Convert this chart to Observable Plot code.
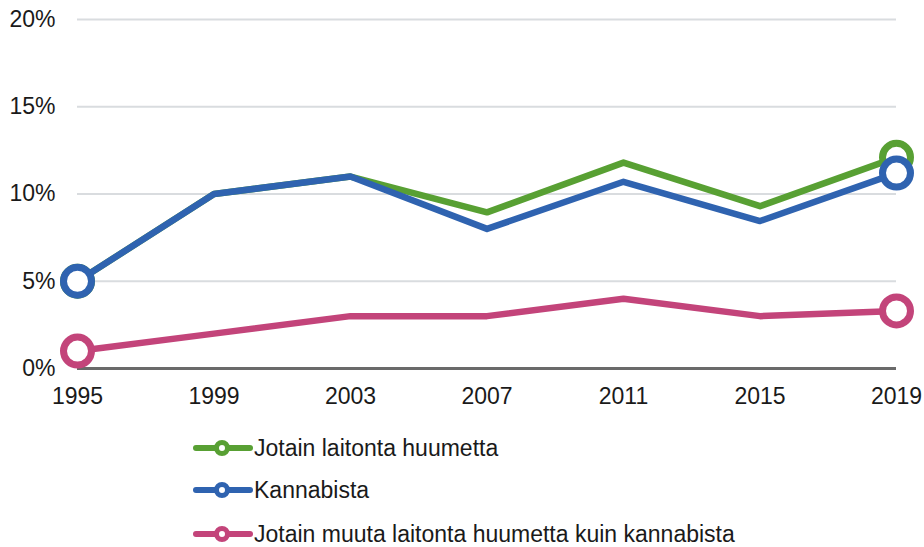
<!DOCTYPE html>
<html>
<head>
<meta charset="utf-8">
<script src="https://cdn.jsdelivr.net/npm/d3@7"></script>
<script src="https://cdn.jsdelivr.net/npm/@observablehq/plot@0.6"></script>
<style>
  body { margin: 0; background: #fff; font-family: "Liberation Sans", Arial, sans-serif; }
  #wrap { position: relative; width: 924px; height: 547px; }
  .leg { position: absolute; left: 193px; display: flex; align-items: center; font-size: 23px; color: #1a1a1a; white-space: nowrap; }
  .leg svg { margin-right: 1px; }
</style>
</head>
<body>
<div id="wrap"></div>
<script>
const years = [1995, 1999, 2003, 2007, 2011, 2015, 2019];
const jotainLaitonta = [5, 10, 11, 8.95, 11.8, 9.3, 12.1];
const kannabista = [5, 10, 11, 8.0, 10.7, 8.45, 11.2];
const muuKuinKannabis = [1, 2, 3, 3, 4, 3, 3.3];
const seriesNames = ["Jotain laitonta huumetta", "Kannabista", "Jotain muuta laitonta huumetta kuin kannabista"];
const seriesColors = ["#58a033", "#2f63b0", "#c3447a"];
const yTicks = [0, 5, 10, 15, 20];

const seriesValues = [jotainLaitonta, kannabista, muuKuinKannabis];
const data = seriesValues.flatMap((vals, si) =>
  years.map((yr, i) => ({ series: seriesNames[si], year: yr, value: vals[i], idx: i }))
);
const ends = data.filter(d => d.idx === 0 || d.idx === years.length - 1);

const marks = [
  Plot.gridY(yTicks, { stroke: "#d9dcdf", strokeOpacity: 1, strokeWidth: 2 }),
  Plot.axisY(yTicks, { tickSize: 0, tickPadding: 22, tickFormat: d => d + "%", fontSize: 23, fill: "#1a1a1a", label: null }),
  Plot.axisX(years, { tickSize: 0, tickPadding: 19, tickFormat: d => String(d), fontSize: 23, fill: "#1a1a1a", label: null }),
  Plot.ruleY([0], { stroke: "#6a6a6a", strokeWidth: 3 })
];
seriesNames.forEach((name, si) => {
  const sd = data.filter(d => d.series === name);
  const se = ends.filter(d => d.series === name);
  marks.push(Plot.line(sd, { x: "year", y: "value", stroke: seriesColors[si], strokeWidth: 6.5, strokeLinejoin: "round" }));
  marks.push(Plot.dot(se, { x: "year", y: "value", r: 14, stroke: seriesColors[si], strokeWidth: 7, fill: "#fff" }));
});

const chart = Plot.plot({
  width: 924,
  height: 420,
  marginLeft: 77,
  marginRight: 28,
  marginTop: 19,
  marginBottom: 52,
  style: { fontFamily: "'Liberation Sans', Arial, sans-serif", background: "#fff", overflow: "visible" },
  x: { domain: [1995, 2019], type: "linear", label: null },
  y: { domain: [0, 20], label: null },
  marks
});
const wrap = document.getElementById("wrap");
wrap.appendChild(chart);

const rowTops = [448, 490, 534];
seriesNames.forEach((name, si) => {
  const row = document.createElement("div");
  row.className = "leg";
  row.style.top = (rowTops[si] - 14) + "px";
  row.style.height = "28px";
  const c = seriesColors[si];
  row.innerHTML = `<svg width="60" height="20" viewBox="0 0 60 20">
    <line x1="3" y1="10" x2="57" y2="10" stroke="${c}" stroke-width="6" stroke-linecap="round"/>
    <circle cx="29" cy="10" r="5.5" fill="#fff" stroke="${c}" stroke-width="5"/>
  </svg><span></span>`;
  row.querySelector("span").textContent = name;
  wrap.appendChild(row);
});
</script>
</body>
</html>
